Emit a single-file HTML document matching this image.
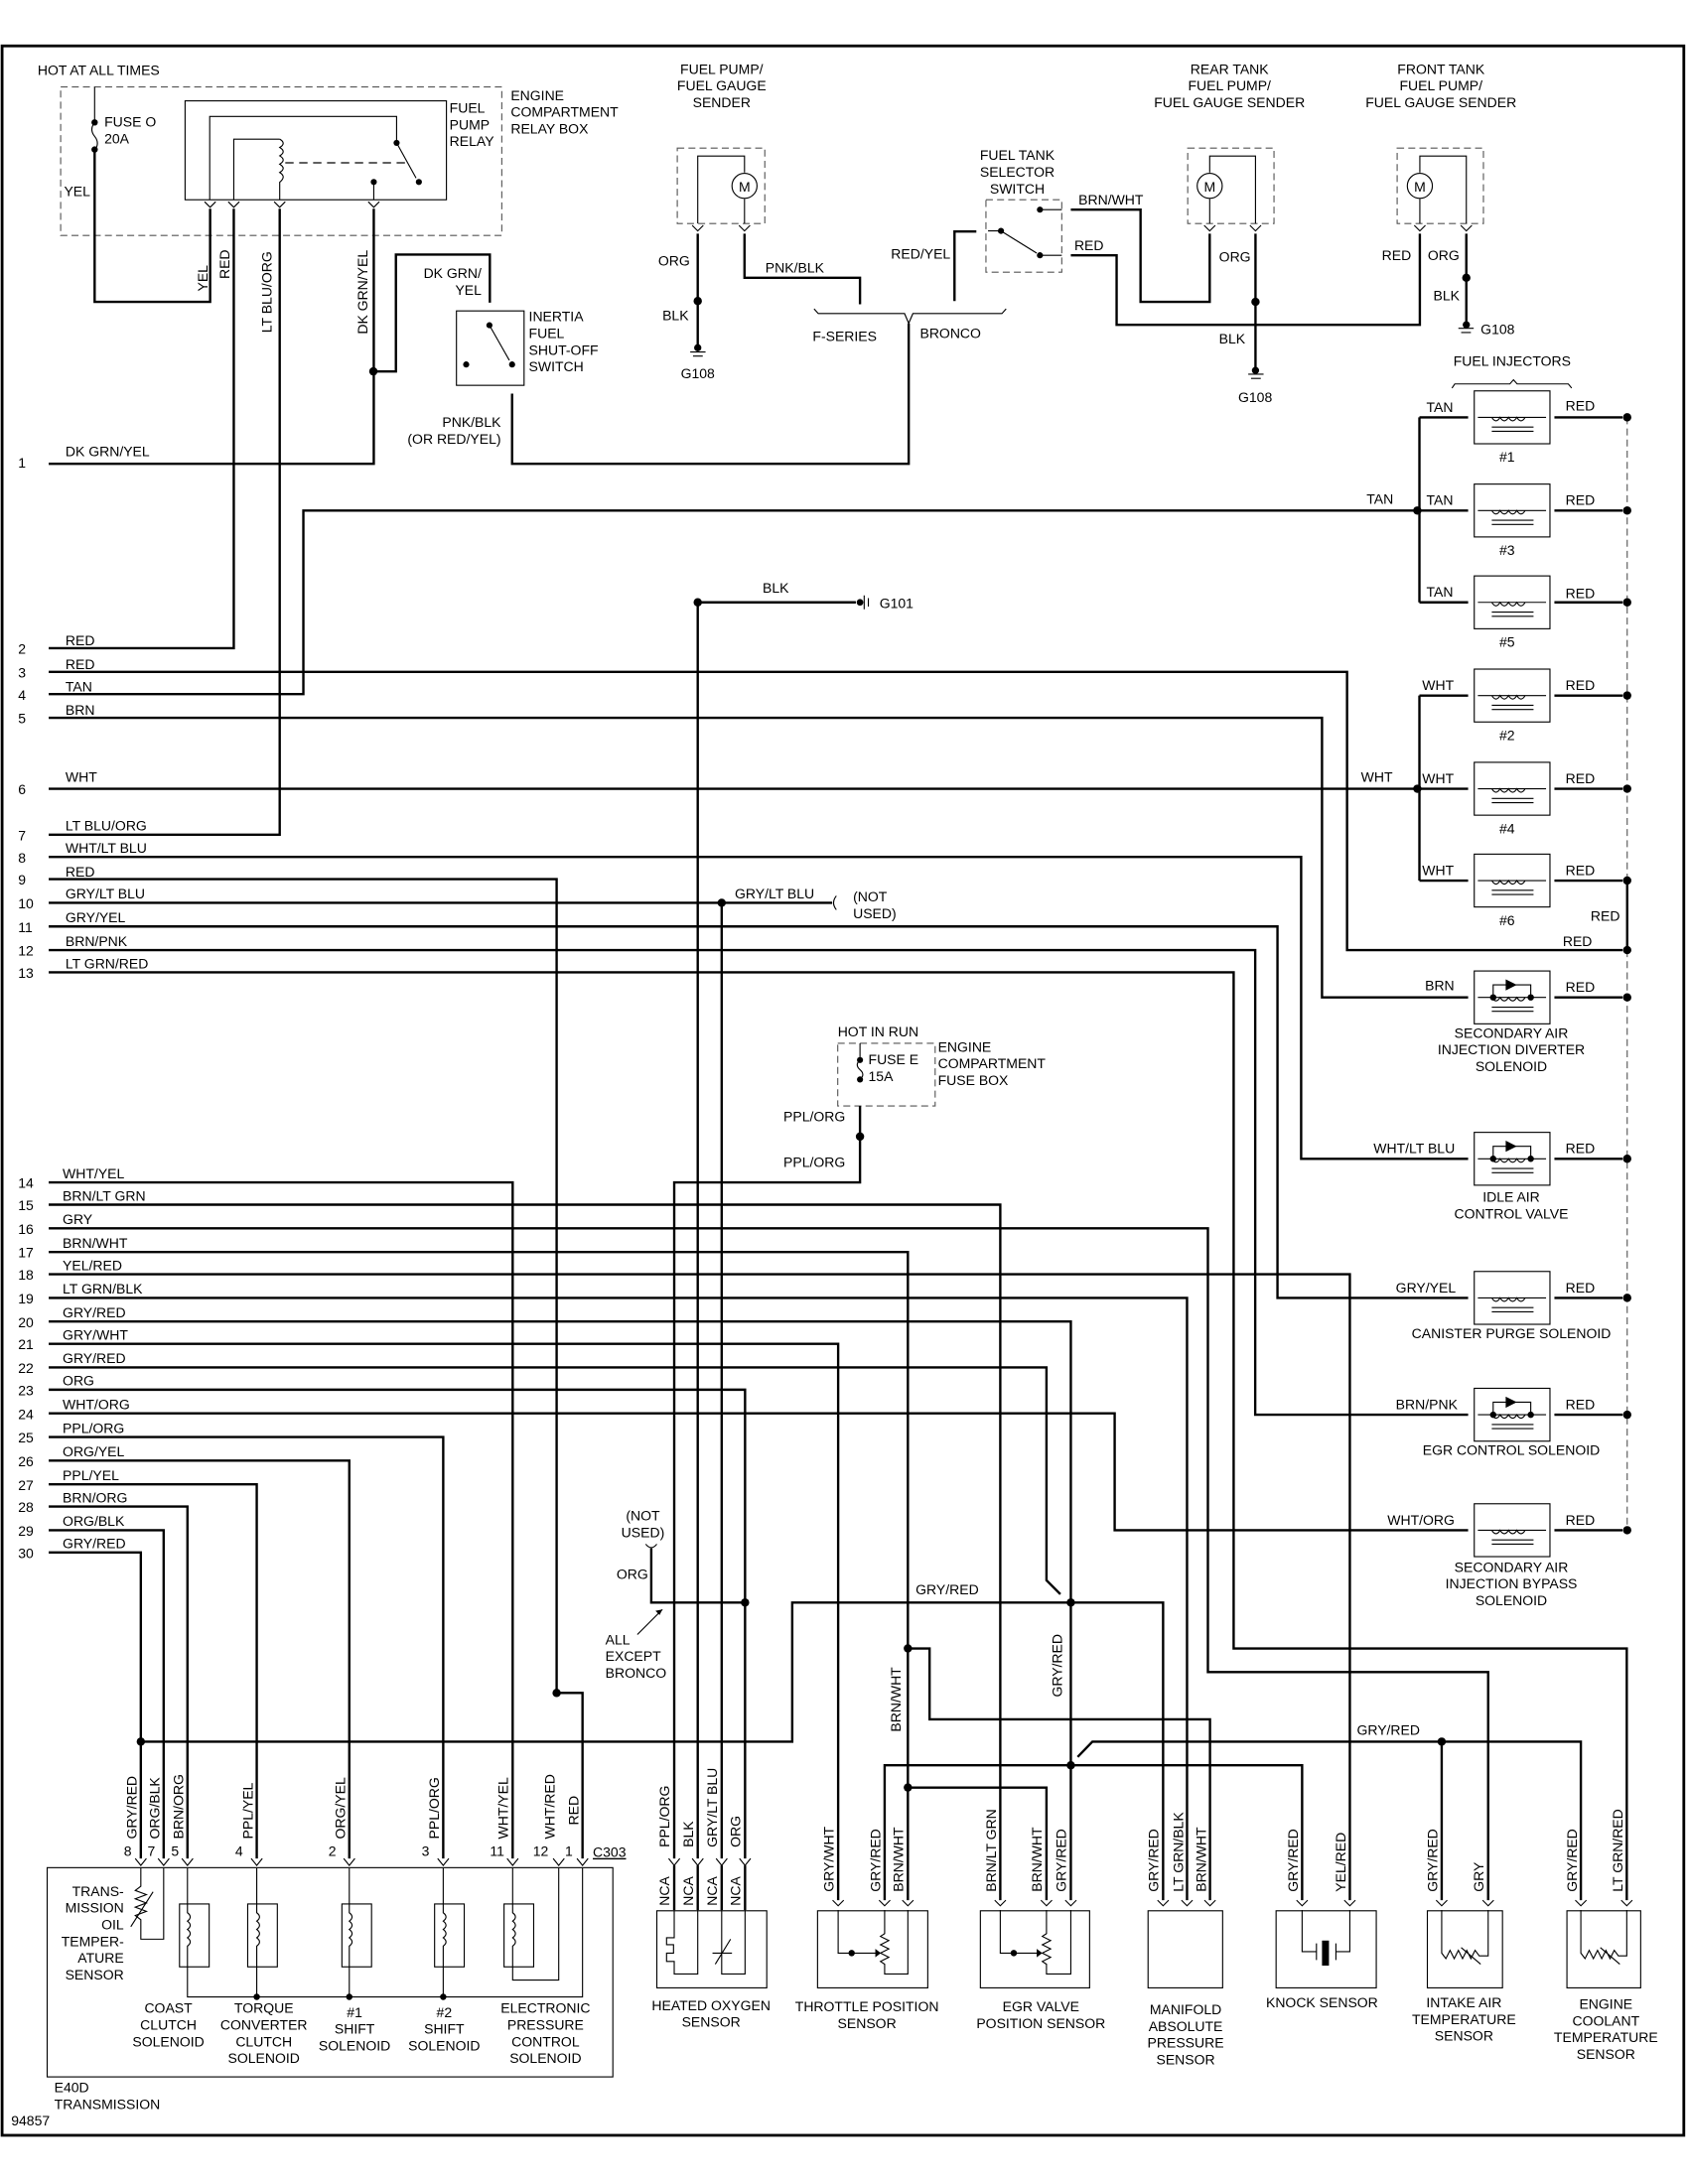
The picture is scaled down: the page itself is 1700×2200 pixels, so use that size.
<!DOCTYPE html>
<html><head><meta charset="utf-8"><style>
html,body{margin:0;padding:0;background:#fff;}
svg{display:block;}
text{font-family:"Liberation Sans",Arial,sans-serif;font-size:10px;fill:#000;}
.w{fill:none;stroke:#000;stroke-width:1.7;}
.t{fill:none;stroke:#000;stroke-width:0.8;}
.d{fill:none;stroke:#555;stroke-width:0.8;stroke-dasharray:5,3;}
.c{fill:none;stroke:#000;stroke-width:0.8;}
</style></head><body>
<svg width="1700" height="2200" viewBox="0 0 1213 1570" preserveAspectRatio="none" xmlns="http://www.w3.org/2000/svg">
<rect x="0" y="0" width="1213" height="1570" fill="#fff"/>
<rect x="1.5" y="33" width="1208.5" height="1502" fill="none" stroke="#000" stroke-width="2"/>

<!-- ===== TOP LEFT RELAY ===== -->
<text x="27" y="54">HOT AT ALL TIMES</text>
<rect x="43.6" y="62.5" width="317" height="106.8" class="d"/>
<text x="367" y="72">ENGINE</text><text x="367" y="84">COMPARTMENT</text><text x="367" y="96">RELAY BOX</text>
<line x1="68" y1="62.5" x2="68" y2="86" class="t"/>
<circle cx="68" cy="88" r="2.3"/><circle cx="68" cy="107.5" r="2.3"/>
<path d="M68 88 q-4 5 0 10 q4 5 0 10" class="c"/>
<text x="75" y="91">FUSE O</text><text x="75" y="103">20A</text>
<text x="46" y="141">YEL</text>
<path d="M68 107.5 V217 H151 V150" class="w"/>
<rect x="133" y="72.5" width="187.8" height="71.1" class="t"/>
<text x="323" y="81">FUEL</text><text x="323" y="93">PUMP</text><text x="323" y="105">RELAY</text>
<path d="M150.7 143.6 V83.7 H285 V102.7" class="t"/>
<path d="M168 143.6 V100 H201" class="t"/>
<path d="M201 100 q5 3 0 6 q5 3 0 6 q5 3 0 6 q5 3 0 6 q5 3 0 7 V143.6" class="c"/>
<line x1="205" y1="117" x2="293" y2="117" stroke="#000" stroke-width="0.9" stroke-dasharray="6,4"/>
<circle cx="285" cy="102.7" r="2.2"/><circle cx="301" cy="130.8" r="2.2"/><circle cx="268.6" cy="130.8" r="2.2"/>
<line x1="285" y1="102.7" x2="299" y2="128" class="t"/>
<line x1="268.6" y1="130.8" x2="268.6" y2="143.6" class="t"/>
<path d="M147 145 l4 4 l4 -4 M164 145 l4 4 l4 -4 M197 145 l4 4 l4 -4 M264.6 145 l4 4 l4 -4" class="c"/>
<path d="M168 150 V466 H35" class="w"/>
<path d="M201 150 V600 H35" class="w"/>
<path d="M268.6 150 V333.4 H35" class="w"/>
<text transform="translate(149,200) rotate(-90)" text-anchor="middle">YEL</text>
<text transform="translate(165,190) rotate(-90)" text-anchor="middle">RED</text>
<text transform="translate(195,210) rotate(-90)" text-anchor="middle">LT BLU/ORG</text>
<text transform="translate(264,210) rotate(-90)" text-anchor="middle">DK GRN/YEL</text>
<circle cx="268.3" cy="267" r="3"/>
<path d="M268.3 267 H284.5 V183 H352 V217.6" class="w"/>
<text x="346" y="200" text-anchor="end">DK GRN/</text><text x="346" y="212" text-anchor="end">YEL</text>
<rect x="328" y="223.5" width="48.6" height="53.5" class="t"/>
<circle cx="351.7" cy="233.8" r="2.2"/><circle cx="368" cy="262" r="2.2"/><circle cx="335" cy="262" r="2.2"/>
<line x1="351.7" y1="233.8" x2="366" y2="259" class="t"/>
<text x="380" y="231">INERTIA</text><text x="380" y="243">FUEL</text><text x="380" y="255">SHUT-OFF</text><text x="380" y="267">SWITCH</text>
<path d="M368 283 V333.4 H653 V232.5" class="w"/>
<text x="360" y="307" text-anchor="end">PNK/BLK</text><text x="360" y="319" text-anchor="end">(OR RED/YEL)</text>

<!-- ===== FUEL PUMP SENDERS ===== -->
<text x="518.6" y="53" text-anchor="middle">FUEL PUMP/</text><text x="518.6" y="65" text-anchor="middle">FUEL GAUGE</text><text x="518.6" y="77" text-anchor="middle">SENDER</text>
<rect x="486.7" y="106.5" width="62.9" height="54.2" class="d"/>
<path d="M501.4 160.7 V112.2 H535 V124" class="t"/>
<circle cx="535" cy="133.6" r="9" class="c"/><text x="535" y="137.6" text-anchor="middle">M</text>
<line x1="535" y1="143" x2="535" y2="160.7" class="t"/>
<path d="M497.4 162 l4 4 l4 -4 M531 162 l4 4 l4 -4 M865.3 162 l4 4 l4 -4 M898.2 162 l4 4 l4 -4 M1016.3 162 l4 4 l4 -4 M1049.7 162 l4 4 l4 -4" class="c"/>
<path d="M501.4 168 V250" class="w"/><circle cx="501.4" cy="216.4" r="3"/>
<path d="M535 168 V199.7 H618 V218.7" class="w"/>
<text x="473" y="191">ORG</text><text x="476" y="230">BLK</text><text x="550" y="196">PNK/BLK</text>
<circle cx="501.4" cy="250" r="2.6"/><path d="M496 253 h11 M498 256 h7" class="c"/>
<text x="501.4" y="272" text-anchor="middle">G108</text>
<path d="M585 222 l3 3.4 H650 l3 7 l3 -7 H720 l3 -3.4" class="c"/>
<text x="607" y="245" text-anchor="middle">F-SERIES</text><text x="683" y="243" text-anchor="middle">BRONCO</text>
<path d="M685.9 216.4 V166.4 H701.6" class="w"/>
<text x="683" y="186" text-anchor="end">RED/YEL</text>
<text x="731" y="115" text-anchor="middle">FUEL TANK</text><text x="731" y="127" text-anchor="middle">SELECTOR</text><text x="731" y="139" text-anchor="middle">SWITCH</text>
<rect x="708.5" y="143.6" width="54.5" height="52.1" class="d"/>
<circle cx="747.3" cy="150.7" r="2.2"/><circle cx="719.3" cy="166" r="2.2"/><circle cx="747.3" cy="183.5" r="2.2"/>
<line x1="719.3" y1="166" x2="745" y2="182" class="t"/>
<path d="M747.3 150.7 H763 M747.3 183.5 H763 M719.3 166 H710" class="t"/>
<path d="M769.5 150.7 H819.6 V217 H869.3 V168" class="w"/>
<path d="M769.5 183.5 H802.4 V233.5 H1020.3 V168" class="w"/>
<text x="775" y="147">BRN/WHT</text><text x="772" y="180">RED</text>
<text x="883.5" y="53" text-anchor="middle">REAR TANK</text><text x="883.5" y="65" text-anchor="middle">FUEL PUMP/</text><text x="883.5" y="77" text-anchor="middle">FUEL GAUGE SENDER</text>
<rect x="853.5" y="106.5" width="62" height="54.2" class="d"/>
<path d="M902.2 160.7 V112.2 H869.3 V124" class="t"/>
<circle cx="869.3" cy="133.6" r="9" class="c"/><text x="869.3" y="137.6" text-anchor="middle">M</text>
<line x1="869.3" y1="143" x2="869.3" y2="160.7" class="t"/>
<path d="M902.2 168 V266" class="w"/><circle cx="902.2" cy="217" r="3"/>
<text x="876" y="188">ORG</text><text x="876" y="247">BLK</text>
<circle cx="902.2" cy="266.3" r="2.6"/><path d="M897 269 h11 M899 272 h7" class="c"/>
<text x="902" y="289" text-anchor="middle">G108</text>
<text x="1035.5" y="53" text-anchor="middle">FRONT TANK</text><text x="1035.5" y="65" text-anchor="middle">FUEL PUMP/</text><text x="1035.5" y="77" text-anchor="middle">FUEL GAUGE SENDER</text>
<rect x="1004" y="106.5" width="62" height="54.2" class="d"/>
<path d="M1053.7 160.7 V112.2 H1020.3 V124" class="t"/>
<circle cx="1020.3" cy="133.6" r="9" class="c"/><text x="1020.3" y="137.6" text-anchor="middle">M</text>
<line x1="1020.3" y1="143" x2="1020.3" y2="160.7" class="t"/>
<path d="M1053.7 168 V233" class="w"/><circle cx="1053.7" cy="199.7" r="3"/>
<text x="993" y="187">RED</text><text x="1026" y="187">ORG</text><text x="1030" y="216">BLK</text>
<circle cx="1053.7" cy="233.5" r="2.6"/><path d="M1048 236 h11 M1050 239 h7" class="c"/>
<text x="1064" y="240">G108</text>

<!-- ===== INJECTORS ===== -->
<text x="1086.6" y="263" text-anchor="middle">FUEL INJECTORS</text>
<path d="M1043.4 279 l2 -3 H1085 l2.6 -3 l2.6 3 H1127 l2.4 3" class="c"/>
<path d="M1020 300 V433 M1020 500 V633" class="w"/>
<circle cx="1018.5" cy="367" r="3"/><circle cx="1018.5" cy="567" r="3"/>
<text x="982" y="362">TAN</text><text x="978" y="562">WHT</text>
<g>
<path d="M1020 300 H1055 M1020 367 H1055 M1020 433 H1055 M1020 500 H1055 M1020 567 H1055 M1020 633 H1055" class="w"/>
<path d="M1117 300 H1166 M1117 367 H1166 M1117 433 H1166 M1117 500 H1166 M1117 567 H1166 M1117 633 H1166" class="w"/>
<rect x="1059.4" y="281" width="54.4" height="38" class="t"/>
<rect x="1059.4" y="348" width="54.4" height="38" class="t"/>
<rect x="1059.4" y="414" width="54.4" height="38" class="t"/>
<rect x="1059.4" y="481" width="54.4" height="38" class="t"/>
<rect x="1059.4" y="548" width="54.4" height="38" class="t"/>
<rect x="1059.4" y="614" width="54.4" height="38" class="t"/>
<path d="M1062 300 H1111 M1072 300 q3 5 6 0 q3 5 6 0 q3 5 6 0 q3 5 6 0 M1072 307 H1102 M1072 310 H1102" class="c"/>
<path d="M1062 367 H1111 M1072 367 q3 5 6 0 q3 5 6 0 q3 5 6 0 q3 5 6 0 M1072 374 H1102 M1072 377 H1102" class="c"/>
<path d="M1062 433 H1111 M1072 433 q3 5 6 0 q3 5 6 0 q3 5 6 0 q3 5 6 0 M1072 440 H1102 M1072 443 H1102" class="c"/>
<path d="M1062 500 H1111 M1072 500 q3 5 6 0 q3 5 6 0 q3 5 6 0 q3 5 6 0 M1072 507 H1102 M1072 510 H1102" class="c"/>
<path d="M1062 567 H1111 M1072 567 q3 5 6 0 q3 5 6 0 q3 5 6 0 q3 5 6 0 M1072 574 H1102 M1072 577 H1102" class="c"/>
<path d="M1062 633 H1111 M1072 633 q3 5 6 0 q3 5 6 0 q3 5 6 0 q3 5 6 0 M1072 640 H1102 M1072 643 H1102" class="c"/>
<text x="1025" y="296">TAN</text><text x="1025" y="363">TAN</text><text x="1025" y="429">TAN</text>
<text x="1022" y="496">WHT</text><text x="1022" y="563">WHT</text><text x="1022" y="629">WHT</text>
<text x="1125" y="295">RED</text><text x="1125" y="363">RED</text><text x="1125" y="430">RED</text>
<text x="1125" y="496">RED</text><text x="1125" y="563">RED</text><text x="1125" y="629">RED</text>
<text x="1083" y="332" text-anchor="middle">#1</text><text x="1083" y="399" text-anchor="middle">#3</text><text x="1083" y="465" text-anchor="middle">#5</text>
<text x="1083" y="532" text-anchor="middle">#2</text><text x="1083" y="599" text-anchor="middle">#4</text><text x="1083" y="665" text-anchor="middle">#6</text>
</g>
<line x1="1169.3" y1="300" x2="1169.3" y2="633" class="d"/>
<line x1="1169.3" y1="633" x2="1169.3" y2="683" class="w"/>
<line x1="1169.3" y1="683" x2="1169.3" y2="1100" class="d"/>
<text x="1143" y="662">RED</text>
<g>
<circle cx="1169.3" cy="300" r="3"/><circle cx="1169.3" cy="367" r="3"/><circle cx="1169.3" cy="433" r="3"/>
<circle cx="1169.3" cy="500" r="3"/><circle cx="1169.3" cy="567" r="3"/><circle cx="1169.3" cy="633" r="3"/>
<circle cx="1169.3" cy="683" r="3"/><circle cx="1169.3" cy="717" r="3"/><circle cx="1169.3" cy="833" r="3"/>
<circle cx="1169.3" cy="933" r="3"/><circle cx="1169.3" cy="1017" r="3"/><circle cx="1169.3" cy="1100" r="3"/>
</g>
<g>
<path d="M1117 717 H1166 M1117 833 H1166 M1117 933 H1166 M1117 1017 H1166 M1117 1100 H1166" class="w"/>
<rect x="1059.4" y="698" width="54.4" height="38" class="t"/>
<rect x="1059.4" y="814" width="54.4" height="38" class="t"/>
<rect x="1059.4" y="914" width="54.4" height="38" class="t"/>
<rect x="1059.4" y="998" width="54.4" height="38" class="t"/>
<rect x="1059.4" y="1081" width="54.4" height="38" class="t"/>
<path d="M1062 717 H1111 M1072 717 q3 5 6 0 q3 5 6 0 q3 5 6 0 q3 5 6 0 M1072 724 H1102 M1072 727 H1102 M1073 717 V708 H1100 V717" class="c"/><path d="M1082 704 L1090 708 L1082 712 Z"/><circle cx="1073" cy="717" r="2.3"/><circle cx="1100" cy="717" r="2.3"/>
<path d="M1062 833 H1111 M1072 833 q3 5 6 0 q3 5 6 0 q3 5 6 0 q3 5 6 0 M1072 840 H1102 M1072 843 H1102 M1073 833 V824 H1100 V833" class="c"/><path d="M1082 820 L1090 824 L1082 828 Z"/><circle cx="1073" cy="833" r="2.3"/><circle cx="1100" cy="833" r="2.3"/>
<path d="M1062 933 H1111 M1072 933 q3 5 6 0 q3 5 6 0 q3 5 6 0 q3 5 6 0 M1072 940 H1102 M1072 943 H1102" class="c"/>
<path d="M1062 1017 H1111 M1072 1017 q3 5 6 0 q3 5 6 0 q3 5 6 0 q3 5 6 0 M1072 1024 H1102 M1072 1027 H1102 M1073 1017 V1008 H1100 V1017" class="c"/><path d="M1082 1004 L1090 1008 L1082 1012 Z"/><circle cx="1073" cy="1017" r="2.3"/><circle cx="1100" cy="1017" r="2.3"/>
<path d="M1062 1100 H1111 M1072 1100 q3 5 6 0 q3 5 6 0 q3 5 6 0 q3 5 6 0 M1072 1107 H1102 M1072 1110 H1102" class="c"/>
<text x="1125" y="713">RED</text><text x="1125" y="829">RED</text><text x="1125" y="929">RED</text><text x="1125" y="1013">RED</text><text x="1125" y="1096">RED</text>
<text x="1086" y="746" text-anchor="middle">SECONDARY AIR</text><text x="1086" y="758" text-anchor="middle">INJECTION DIVERTER</text><text x="1086" y="770" text-anchor="middle">SOLENOID</text>
<text x="1086" y="864" text-anchor="middle">IDLE AIR</text><text x="1086" y="876" text-anchor="middle">CONTROL VALVE</text>
<text x="1086" y="962" text-anchor="middle">CANISTER PURGE SOLENOID</text>
<text x="1086" y="1046" text-anchor="middle">EGR CONTROL SOLENOID</text>
<text x="1086" y="1130" text-anchor="middle">SECONDARY AIR</text><text x="1086" y="1142" text-anchor="middle">INJECTION BYPASS</text><text x="1086" y="1154" text-anchor="middle">SOLENOID</text>
<text x="1024" y="712">BRN</text><text x="987" y="829">WHT/LT BLU</text><text x="1003" y="929">GRY/YEL</text><text x="1003" y="1013">BRN/PNK</text><text x="997" y="1096">WHT/ORG</text>
<text x="1123" y="680">RED</text>
</g>

<!-- ===== LEFT ROW WIRES ===== -->
<g>
<text x="13" y="336">1</text><text x="47" y="328">DK GRN/YEL</text>
<text x="13" y="470">2</text><text x="47" y="464">RED</text>
<text x="13" y="487">3</text><text x="47" y="481">RED</text>
<text x="13" y="503">4</text><text x="47" y="497">TAN</text>
<text x="13" y="520">5</text><text x="47" y="514">BRN</text>
<text x="13" y="571">6</text><text x="47" y="562">WHT</text>
<text x="13" y="604">7</text><text x="47" y="597">LT BLU/ORG</text>
<text x="13" y="620">8</text><text x="47" y="613">WHT/LT BLU</text>
<text x="13" y="636">9</text><text x="47" y="630">RED</text>
<text x="13" y="653">10</text><text x="47" y="646">GRY/LT BLU</text>
<text x="13" y="670">11</text><text x="47" y="663">GRY/YEL</text>
<text x="13" y="687">12</text><text x="47" y="680">BRN/PNK</text>
<text x="13" y="703">13</text><text x="47" y="696">LT GRN/RED</text>
<text x="13" y="854">14</text><text x="45" y="847">WHT/YEL</text>
<text x="13" y="870">15</text><text x="45" y="863">BRN/LT GRN</text>
<text x="13" y="887">16</text><text x="45" y="880">GRY</text>
<text x="13" y="904">17</text><text x="45" y="897">BRN/WHT</text>
<text x="13" y="920">18</text><text x="45" y="913">YEL/RED</text>
<text x="13" y="937">19</text><text x="45" y="930">LT GRN/BLK</text>
<text x="13" y="954">20</text><text x="45" y="947">GRY/RED</text>
<text x="13" y="970">21</text><text x="45" y="963">GRY/WHT</text>
<text x="13" y="987">22</text><text x="45" y="980">GRY/RED</text>
<text x="13" y="1003">23</text><text x="45" y="996">ORG</text>
<text x="13" y="1020">24</text><text x="45" y="1013">WHT/ORG</text>
<text x="13" y="1037">25</text><text x="45" y="1030">PPL/ORG</text>
<text x="13" y="1054">26</text><text x="45" y="1047">ORG/YEL</text>
<text x="13" y="1071">27</text><text x="45" y="1064">PPL/YEL</text>
<text x="13" y="1087">28</text><text x="45" y="1080">BRN/ORG</text>
<text x="13" y="1104">29</text><text x="45" y="1097">ORG/BLK</text>
<text x="13" y="1120">30</text><text x="45" y="1113">GRY/RED</text>
</g>
<path d="M35 483 H968 V683 H1166" class="w"/>
<path d="M35 499 H218 V367 H1018" class="w"/>
<path d="M35 516 H950 V717 H1055" class="w"/>
<path d="M35 567 H1018" class="w"/>
<path d="M35 616 H935 V833 H1055" class="w"/>
<path d="M35 632 H400 V1217 H418.6 V1336" class="w"/><circle cx="400" cy="1217" r="3"/>
<path d="M35 649 H598" class="w"/><circle cx="518.6" cy="649" r="3"/>
<path d="M601 644 q-4 5 0 10" class="c"/>
<text x="528" y="646">GRY/LT BLU</text><text x="613" y="648">(NOT</text><text x="613" y="660">USED)</text>
<path d="M35 666 H918 V933 H1055" class="w"/>
<path d="M35 683 H902 V1017 H1055" class="w"/>
<path d="M35 699 H886.5 V1185 H1169 V1366" class="w"/>
<path d="M35 850 H368.4 V1336" class="w"/>
<path d="M35 866 H718.8 V1366" class="w"/>
<path d="M35 883 H868 V1202 H1069.4 V1366" class="w"/>
<path d="M35 900 H652.4 V1366" class="w"/><circle cx="652.4" cy="1185" r="3"/><circle cx="652.4" cy="1285" r="3"/>
<path d="M35 916 H970 V1366" class="w"/>
<path d="M35 933 H853 V1366" class="w"/>
<path d="M35 950 H769.5 V1366" class="w"/>
<path d="M35 966 H602.3 V1366" class="w"/>
<path d="M35 983 H752 V1136 L762 1146" class="w"/>
<path d="M35 999 H535.4 V1336" class="w"/>
<path d="M35 1016 H801 V1100 H1055" class="w"/>
<path d="M35 1033 H318.5 V1336" class="w"/>
<path d="M35 1050 H251 V1336" class="w"/>
<path d="M35 1067 H184.5 V1336" class="w"/>
<path d="M35 1083 H134.7 V1336" class="w"/>
<path d="M35 1100 H117.6 V1336" class="w"/>
<path d="M35 1116 H101.2 V1336" class="w"/>

<!-- G101 -->
<path d="M501.4 1336 V433 H615" class="w"/><circle cx="501.4" cy="433" r="3"/>
<circle cx="618" cy="433" r="2.4"/><path d="M621 428 v10 M624 430 v6" class="c"/>
<text x="548" y="426">BLK</text><text x="632" y="437">G101</text>
<path d="M518.6 649 V1336" class="w"/>

<!-- FUSE E -->
<text x="602" y="745">HOT IN RUN</text>
<rect x="602" y="750" width="70" height="45" class="d"/>
<circle cx="618" cy="762" r="2.2"/><circle cx="618" cy="776" r="2.2"/>
<path d="M618 762 q-4 3.5 0 7 q4 3.5 0 7" class="c"/>
<line x1="618" y1="750" x2="618" y2="760" class="t"/>
<text x="624" y="765">FUSE E</text><text x="624" y="777">15A</text>
<text x="674" y="756">ENGINE</text><text x="674" y="768">COMPARTMENT</text><text x="674" y="780">FUSE BOX</text>
<path d="M618 795 V850 H484.5 V1336" class="w"/><circle cx="618" cy="817" r="3"/>
<text x="563" y="806">PPL/ORG</text><text x="563" y="839">PPL/ORG</text>

<!-- bottom middle -->
<text x="462" y="1093" text-anchor="middle">(NOT</text><text x="462" y="1105" text-anchor="middle">USED)</text>
<path d="M464 1110 q4 5 8 0" class="c"/>
<path d="M468 1113 V1152 H535.4" class="w"/><circle cx="535.4" cy="1152" r="3"/>
<text x="443" y="1135">ORG</text>
<text x="435" y="1182">ALL</text><text x="435" y="1194">EXCEPT</text><text x="435" y="1206">BRONCO</text>
<line x1="458" y1="1175" x2="476" y2="1157" class="t"/><path d="M476 1157 l-5 1 l3 3 Z"/>
<path d="M101.2 1252 H569.3 V1152 H835.8 V1366" class="w"/><circle cx="101.2" cy="1252" r="3"/><circle cx="769.5" cy="1152" r="3"/>
<text x="658" y="1146">GRY/RED</text>
<text transform="translate(763,1220) rotate(-90)">GRY/RED</text>
<text transform="translate(647,1245) rotate(-90)">BRN/WHT</text>
<path d="M652.4 1185 H668 V1236 H869.5 V1366" class="w"/>
<path d="M774.4 1263 L785 1252 H1136 V1366" class="w"/><circle cx="1036" cy="1252" r="3"/>
<path d="M1036 1252 V1366" class="w"/>
<text x="975" y="1247">GRY/RED</text>
<path d="M635.7 1366 V1269 H935.7 V1366" class="w"/><circle cx="769.5" cy="1269" r="3"/>
<path d="M652.4 1285 H752 V1366" class="w"/>

<!-- ===== TRANSMISSION ===== -->
<rect x="33.9" y="1342.6" width="406.5" height="150.4" class="t"/>
<text x="426" y="1335" style="text-decoration:underline">C303</text>
<g>
<text x="89" y="1334">8</text><text x="106" y="1334">7</text><text x="123" y="1334">5</text>
<text x="169" y="1334">4</text><text x="236" y="1334">2</text><text x="303" y="1334">3</text>
<text x="352" y="1334">11</text><text x="383" y="1334">12</text><text x="406" y="1334">1</text>
</g>
<path d="M97.2 1336 l4 5 l4 -5 M113.6 1336 l4 5 l4 -5 M130.7 1336 l4 5 l4 -5 M180.5 1336 l4 5 l4 -5 M247 1336 l4 5 l4 -5 M314.5 1336 l4 5 l4 -5 M364.4 1336 l4 5 l4 -5 M397.5 1336 l4 5 l4 -5 M414.6 1336 l4 5 l4 -5" class="c"/>
<g>
<text transform="translate(98,1322) rotate(-90)">GRY/RED</text>
<text transform="translate(114.5,1322) rotate(-90)">ORG/BLK</text>
<text transform="translate(131.5,1322) rotate(-90)">BRN/ORG</text>
<text transform="translate(181.5,1322) rotate(-90)">PPL/YEL</text>
<text transform="translate(248,1322) rotate(-90)">ORG/YEL</text>
<text transform="translate(315.5,1322) rotate(-90)">PPL/ORG</text>
<text transform="translate(365,1322) rotate(-90)">WHT/YEL</text>
<text transform="translate(398.5,1322) rotate(-90)">WHT/RED</text>
<text transform="translate(415.5,1312) rotate(-90)">RED</text>
</g>
<path d="M101.2 1343 V1356 l-4 3 l8 3 l-8 3 l8 3 l-8 3 l8 3 l-8 3 l4 3 V1394 H117.6 V1343" class="c"/>
<line x1="94" y1="1385" x2="110" y2="1360" class="c"/>
<g text-anchor="end">
<text x="89" y="1363">TRANS-</text><text x="89" y="1375">MISSION</text><text x="89" y="1387">OIL</text>
<text x="89" y="1399">TEMPER-</text><text x="89" y="1411">ATURE</text><text x="89" y="1423">SENSOR</text>
</g>
<rect x="129" y="1368.7" width="21.3" height="45.2" class="t"/>
<rect x="178" y="1368.7" width="21.3" height="45.2" class="t"/>
<rect x="245.7" y="1368.7" width="21.3" height="45.2" class="t"/>
<rect x="312.3" y="1368.7" width="21.3" height="45.2" class="t"/>
<rect x="362.2" y="1368.7" width="21.3" height="45.2" class="t"/>
<path d="M134.7 1343 V1375 q4 3 0 6 q4 3 0 6 q4 3 0 6 q4 3 0 6 V1435.5 H418.6 V1343" class="c"/>
<path d="M184.5 1343 V1375 q4 3 0 6 q4 3 0 6 q4 3 0 6 q4 3 0 6 V1435.5" class="c"/>
<path d="M251 1343 V1375 q4 3 0 6 q4 3 0 6 q4 3 0 6 q4 3 0 6 V1435.5" class="c"/>
<path d="M318.5 1343 V1375 q4 3 0 6 q4 3 0 6 q4 3 0 6 q4 3 0 6 V1435.5" class="c"/>
<path d="M368.4 1343 V1375 q4 3 0 6 q4 3 0 6 q4 3 0 6 q4 3 0 6 V1423.4 H401.5 V1343" class="c"/>
<circle cx="184.5" cy="1435.5" r="2.3"/><circle cx="251" cy="1435.5" r="2.3"/><circle cx="318.5" cy="1435.5" r="2.3"/>
<g text-anchor="middle">
<text x="121" y="1447">COAST</text><text x="121" y="1459">CLUTCH</text><text x="121" y="1471">SOLENOID</text>
<text x="189.6" y="1447">TORQUE</text><text x="189.6" y="1459">CONVERTER</text><text x="189.6" y="1471">CLUTCH</text><text x="189.6" y="1483">SOLENOID</text>
<text x="254.8" y="1450">#1</text><text x="254.8" y="1462">SHIFT</text><text x="254.8" y="1474">SOLENOID</text>
<text x="319.2" y="1450">#2</text><text x="319.2" y="1462">SHIFT</text><text x="319.2" y="1474">SOLENOID</text>
<text x="392" y="1447">ELECTRONIC</text><text x="392" y="1459">PRESSURE</text><text x="392" y="1471">CONTROL</text><text x="392" y="1483">SOLENOID</text>
</g>
<text x="39" y="1504">E40D</text><text x="39" y="1516">TRANSMISSION</text>
<text x="8" y="1528">94857</text>

<!-- ===== SENSORS ===== -->
<path d="M480.5 1336 l4 5 l4 -5 M497.4 1336 l4 5 l4 -5 M514.6 1336 l4 5 l4 -5 M531.4 1336 l4 5 l4 -5" class="c"/>
<g>
<text transform="translate(481,1328) rotate(-90)">PPL/ORG</text>
<text transform="translate(498,1328) rotate(-90)">BLK</text>
<text transform="translate(515,1328) rotate(-90)">GRY/LT BLU</text>
<text transform="translate(532,1328) rotate(-90)">ORG</text>
<text transform="translate(481,1370) rotate(-90)">NCA</text>
<text transform="translate(498,1370) rotate(-90)">NCA</text>
<text transform="translate(515,1370) rotate(-90)">NCA</text>
<text transform="translate(532,1370) rotate(-90)">NCA</text>
</g>
<path d="M484.5 1341 V1373 M501.4 1341 V1373 M518.6 1341 V1373 M535.4 1341 V1373" class="w"/>
<rect x="472" y="1373.6" width="79" height="55.4" class="t"/>
<path d="M484.5 1373 V1393 H479 V1398 H484 V1404 H479 V1410 H484.5 V1419 H501.4 V1373" class="c"/>
<path d="M518.6 1373 V1419 H535.4 V1373 M512 1404 H526 M514 1412 L525 1394" class="c"/>
<text x="511" y="1445" text-anchor="middle">HEATED OXYGEN</text><text x="511" y="1457" text-anchor="middle">SENSOR</text>

<g>
<text transform="translate(599,1360) rotate(-90)">GRY/WHT</text>
<text transform="translate(632.5,1360) rotate(-90)">GRY/RED</text>
<text transform="translate(649,1360) rotate(-90)">BRN/WHT</text>
<text transform="translate(715.5,1360) rotate(-90)">BRN/LT GRN</text>
<text transform="translate(748.5,1360) rotate(-90)">BRN/WHT</text>
<text transform="translate(766,1360) rotate(-90)">GRY/RED</text>
<text transform="translate(832.5,1360) rotate(-90)">GRY/RED</text>
<text transform="translate(850,1360) rotate(-90)">LT GRN/BLK</text>
<text transform="translate(866.5,1360) rotate(-90)">BRN/WHT</text>
<text transform="translate(932.5,1360) rotate(-90)">GRY/RED</text>
<text transform="translate(967,1360) rotate(-90)">YEL/RED</text>
<text transform="translate(1033,1360) rotate(-90)">GRY/RED</text>
<text transform="translate(1066,1360) rotate(-90)">GRY</text>
<text transform="translate(1133,1360) rotate(-90)">GRY/RED</text>
<text transform="translate(1166,1360) rotate(-90)">LT GRN/RED</text>
</g>
<path d="M598.3 1366 l4 4 l4 -4 M631.7 1366 l4 4 l4 -4 M648.4 1366 l4 4 l4 -4 M714.8 1366 l4 4 l4 -4 M748 1366 l4 4 l4 -4 M765.5 1366 l4 4 l4 -4 M831.8 1366 l4 4 l4 -4 M849 1366 l4 4 l4 -4 M865.5 1366 l4 4 l4 -4 M931.7 1366 l4 4 l4 -4 M966 1366 l4 4 l4 -4 M1032 1366 l4 4 l4 -4 M1065.4 1366 l4 4 l4 -4 M1132 1366 l4 4 l4 -4 M1165 1366 l4 4 l4 -4" class="c"/>
<!-- TPS -->
<rect x="587.5" y="1373.6" width="79.2" height="55.4" class="t"/>
<path d="M602.3 1373 V1404 H632 M635.7 1373 V1390 l-3 2 l6 3 l-6 3 l6 3 l-6 3 l6 3 l-6 3 l3 2 V1419 H652.4 V1373" class="c"/>
<circle cx="612" cy="1404" r="2.3"/><path d="M629 1401 l4 3 l-4 3 Z"/>
<text x="623" y="1446" text-anchor="middle">THROTTLE POSITION</text><text x="623" y="1458" text-anchor="middle">SENSOR</text>
<!-- EGR -->
<rect x="704.5" y="1373.6" width="78.5" height="55.4" class="t"/>
<path d="M718.8 1373 V1404 H748 M752 1373 V1390 l-3 2 l6 3 l-6 3 l6 3 l-6 3 l6 3 l-6 3 l3 2 V1419 H769.5 V1373" class="c"/>
<circle cx="728.5" cy="1404" r="2.3"/><path d="M745 1401 l4 3 l-4 3 Z"/>
<text x="748" y="1446" text-anchor="middle">EGR VALVE</text><text x="748" y="1458" text-anchor="middle">POSITION SENSOR</text>
<!-- MAP -->
<rect x="825" y="1373.6" width="53.6" height="55.4" class="t"/>
<text x="852" y="1448" text-anchor="middle">MANIFOLD</text><text x="852" y="1460" text-anchor="middle">ABSOLUTE</text><text x="852" y="1472" text-anchor="middle">PRESSURE</text><text x="852" y="1484" text-anchor="middle">SENSOR</text>
<!-- Knock -->
<rect x="917" y="1373.6" width="72" height="55.4" class="t"/>
<path d="M935.7 1373 V1403 H946 M970 1373 V1403 H960" class="c"/>
<rect x="950" y="1395" width="5" height="18"/><path d="M946 1397 V1409 M960 1397 V1409" class="c"/>
<text x="950" y="1443" text-anchor="middle">KNOCK SENSOR</text>
<!-- IAT -->
<rect x="1025.7" y="1373.6" width="54" height="55.4" class="t"/>
<path d="M1036 1373 V1404 l3 4 l3 -6 l3 6 l3 -6 l3 6 l3 -6 l3 6 l3 -6 l3 4 H1069.4 V1373 M1050 1400 l14 12" class="c"/>
<text x="1052" y="1443" text-anchor="middle">INTAKE AIR</text><text x="1052" y="1455" text-anchor="middle">TEMPERATURE</text><text x="1052" y="1467" text-anchor="middle">SENSOR</text>
<!-- ECT -->
<rect x="1126" y="1373.6" width="53" height="55.4" class="t"/>
<path d="M1136 1373 V1404 l3 4 l3 -6 l3 6 l3 -6 l3 6 l3 -6 l3 6 l3 -6 l3 4 H1169 V1373 M1150 1400 l14 12" class="c"/>
<text x="1154" y="1444" text-anchor="middle">ENGINE</text><text x="1154" y="1456" text-anchor="middle">COOLANT</text><text x="1154" y="1468" text-anchor="middle">TEMPERATURE</text><text x="1154" y="1480" text-anchor="middle">SENSOR</text>
</svg>
</body></html>
